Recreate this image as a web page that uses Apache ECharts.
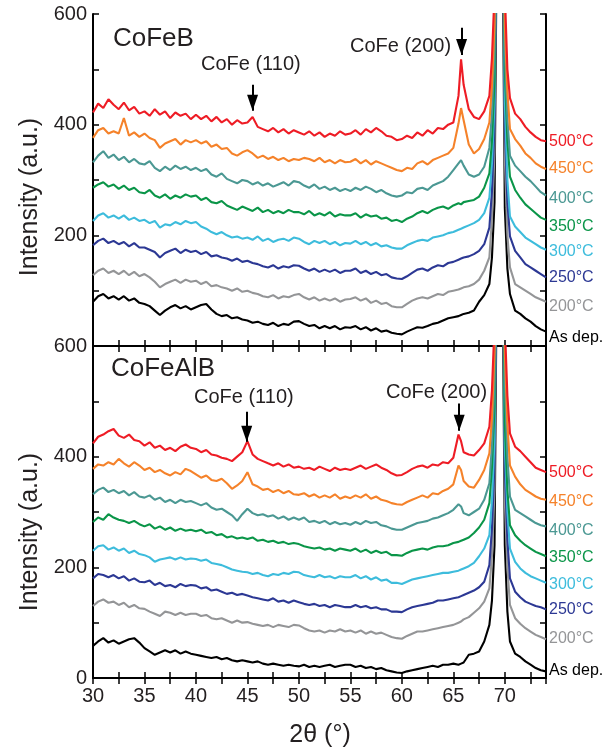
<!DOCTYPE html>
<html><head><meta charset="utf-8">
<script src="https://cdn.jsdelivr.net/npm/echarts@6/dist/echarts.min.js"></script>
<style>html,body{margin:0;padding:0;background:#fff}#c{width:615px;height:751px}</style>
</head><body><div id="c"></div>
<script>
// 2theta positions (deg) shared by all traces
const angles = [
30,30.5,31,31.5,32,32.5,33,33.5,34,34.5,
35,35.5,36,36.5,37,37.5,38,38.5,39,39.5,
40,40.5,41,41.5,42,42.5,43,43.5,44,44.5,
45,45.5,46,46.5,47,47.5,48,48.5,49,49.5,
50,50.5,51,51.5,52,52.5,53,53.5,54,54.5,
55,55.5,56,56.5,57,57.5,58,58.5,59,59.5,
60,60.5,61,61.5,62,62.5,63,63.5,64,64.5,
65,65.5,65.75,66,66.5,67,67.5,68,68.5,
68.75,69,69.2,69.35,69.5,69.65,69.8,70,70.25,
70.5,71,71.5,72,72.5,73,73.5,74];

const tempLabels = ['500°C','450°C','400°C','350°C','300°C','250°C','200°C','As dep.'];

// ---- CoFeB panel ----
const cofeb500 = [
422,438,430,446,436,428,440,426,432,420,
424,416,428,418,424,412,422,416,420,410,
418,410,416,406,414,404,410,400,408,402,
404,414,396,392,388,394,386,392,384,390,
386,382,388,380,386,378,384,380,388,382,
384,390,382,392,386,394,388,380,378,372,
374,380,376,386,380,390,384,394,392,400,
404,452,518,472,428,414,410,424,452,
520,640,1000,2500,5000,2500,1100,640,500,
448,420,410,396,386,378,372,370];
const cofeb450 = [
376,390,394,384,388,384,412,380,386,378,
384,376,372,358,366,370,374,364,372,368,
372,366,370,360,364,356,358,348,344,350,
354,348,340,344,338,342,336,340,334,338,
336,340,338,334,340,332,336,330,336,332,
333,338,330,336,328,334,330,326,322,318,
316,322,320,330,334,328,336,340,344,348,
358,402,430,408,364,348,356,374,404,
470,580,1000,2500,5000,2500,1000,580,460,
392,374,362,348,340,330,324,320];
const cofeb400 = [
332,344,352,340,346,336,342,332,338,330,
328,334,322,316,324,318,326,320,324,318,
322,316,320,310,306,312,302,298,294,300,
298,292,296,290,294,288,292,296,290,298,
296,290,286,292,284,288,282,286,280,284,
280,286,282,288,284,278,282,276,272,270,
272,278,276,284,286,282,290,294,298,306,
318,330,336,326,310,306,310,324,358,
420,540,950,2500,5000,2500,950,540,410,
344,326,316,306,298,288,278,272];
const cofeb350 = [
286,292,296,288,292,284,290,282,286,278,
276,282,272,268,274,266,272,268,274,270,
272,264,268,260,258,262,254,250,246,252,
248,244,250,242,246,240,244,240,246,242,
242,238,244,236,240,236,242,234,238,236,
236,240,232,238,234,236,230,232,226,228,
224,230,234,240,244,240,246,250,252,248,
254,258,256,260,262,264,270,286,312,
370,480,900,2500,5000,2500,900,500,370,
306,282,268,256,248,240,232,228];
const cofeb300 = [
226,236,240,232,236,230,236,228,232,226,
228,222,226,214,220,218,224,220,226,222,
224,216,212,206,202,206,200,196,198,194,
196,192,198,190,194,188,192,194,190,196,
194,188,184,190,186,190,184,188,182,186,
185,190,184,188,182,186,180,182,178,176,
176,182,186,190,192,190,196,198,200,204,
206,210,212,214,218,222,228,240,268,
330,440,850,2500,5000,2500,850,440,300,
234,216,206,196,190,184,178,174];
const cofeb250 = [
182,190,194,186,190,184,188,180,186,178,
178,174,170,160,168,172,176,168,174,170,
172,166,170,162,164,160,158,154,158,152,
154,150,148,144,142,146,140,144,142,146,
145,140,136,140,134,138,134,138,132,136,
136,140,132,136,130,134,128,130,124,122,
121,126,132,138,140,136,142,146,144,150,
152,156,158,160,162,166,172,184,214,
280,400,800,2500,5000,2500,800,400,260,
198,172,160,148,142,136,130,124];
const cofeb200 = [
128,136,140,132,136,130,136,128,134,126,
130,124,116,106,112,116,120,114,120,116,
118,112,116,108,110,106,104,100,104,98,
100,96,94,90,88,92,86,90,88,92,
94,88,84,88,82,86,82,86,80,84,
85,88,82,86,78,82,76,78,72,70,
70,76,82,86,88,86,90,94,92,98,
100,102,104,106,108,112,120,136,160,
230,350,800,2500,5000,2500,800,340,200,
142,112,106,100,94,88,84,80];
const cofebAsDep = [
80,90,94,86,90,84,90,82,86,78,
76,72,64,56,64,70,74,68,72,66,
70,74,76,66,58,54,56,50,52,48,
46,42,44,40,38,42,36,40,38,44,
45,40,36,38,32,36,32,36,30,34,
33,36,30,34,28,32,26,28,24,22,
21,26,30,34,33,36,40,42,46,50,
52,54,56,58,60,64,80,92,112,
160,260,700,2500,5000,2500,700,250,140,
94,64,58,50,44,36,30,26];

// ---- CoFeAlB panel ----
const cofealb500 = [
424,436,440,446,450,438,434,440,430,428,
420,426,416,420,412,416,410,418,422,416,
414,408,412,404,402,398,396,392,400,408,
428,404,396,392,388,384,388,382,386,380,
382,378,380,376,382,378,374,380,376,378,
376,380,384,378,382,386,380,376,370,366,
367,372,378,382,384,380,386,384,390,388,
398,440,428,408,404,402,412,424,454,
520,640,1000,2500,5000,2500,1000,640,510,
442,418,410,400,390,380,376,372];
const cofealb450 = [
378,386,384,390,386,396,388,382,390,384,
376,380,372,376,370,366,372,368,378,374,
368,362,366,358,356,360,352,342,348,356,
372,350,346,340,342,336,340,334,338,332,
331,334,328,332,326,330,326,332,324,328,
325,330,326,332,324,328,322,320,316,314,
313,318,322,326,330,326,334,332,338,342,
350,384,376,356,346,344,358,376,406,
470,590,1000,2500,5000,2500,1000,590,460,
384,364,350,340,334,328,324,322];
const cofealb400 = [
332,340,344,336,340,334,338,330,336,328,
326,330,322,326,318,322,316,322,318,320,
316,312,316,308,304,306,300,294,284,296,
306,298,294,296,292,294,288,292,286,290,
286,290,282,284,280,284,278,282,278,280,
277,282,278,284,280,282,276,274,270,268,
268,272,276,280,282,284,288,290,294,298,
304,314,310,298,294,300,306,322,352,
420,540,950,2500,5000,2500,950,540,400,
328,304,298,292,286,280,276,274];
const cofealb350 = [
282,290,286,296,290,286,284,280,284,278,
274,278,270,274,268,272,266,270,266,268,
265,268,262,264,258,260,254,256,252,254,
251,254,248,250,246,248,244,246,242,244,
242,238,236,234,236,232,234,230,234,232,
230,234,228,232,226,230,226,228,222,222,
221,226,230,232,234,232,236,238,238,240,
244,246,248,250,254,262,272,286,316,
380,490,900,2500,5000,2500,900,460,340,
276,258,248,240,234,228,224,220];
const cofealb300 = [
230,238,240,232,236,230,234,226,230,224,
222,218,210,214,216,218,214,218,214,216,
215,212,214,208,206,204,200,196,194,192,
191,188,190,186,184,188,186,190,188,192,
191,186,184,182,186,182,184,180,184,182,
182,186,180,184,178,182,176,178,172,172,
170,174,178,180,182,184,186,188,190,190,
192,194,196,198,202,208,220,234,258,
320,430,850,2500,5000,2500,850,420,300,
234,210,198,190,184,180,176,172];
const cofealb250 = [
180,188,186,182,186,180,184,176,180,174,
173,176,168,172,166,168,164,170,166,168,
167,162,164,158,160,156,152,154,150,152,
149,146,144,142,140,144,138,140,136,140,
137,134,132,134,130,132,128,132,130,128,
128,132,128,130,126,128,124,124,120,120,
119,124,128,130,132,134,136,140,140,142,
144,146,148,150,154,158,164,174,204,
270,390,800,2500,5000,2500,800,380,250,
180,156,146,138,134,130,128,124];
const cofealb200 = [
130,138,142,136,138,132,136,128,132,126,
125,120,116,112,120,118,114,118,114,116,
116,112,114,108,106,108,104,100,104,100,
101,98,96,94,96,92,96,94,92,96,
95,90,86,84,86,82,86,84,88,84,
86,82,86,80,84,80,82,78,74,72,
71,76,80,84,84,86,88,90,92,94,
96,100,102,106,110,118,126,138,162,
220,340,800,2500,5000,2500,800,320,200,
132,108,98,90,84,78,74,70];
const cofealbAsDep = [
58,66,72,64,68,62,66,70,72,64,
54,48,42,46,50,46,50,44,48,44,
42,40,38,36,38,34,36,32,30,32,
30,28,30,26,24,26,24,22,24,22,
21,24,20,22,20,22,24,20,22,24,
24,20,22,18,20,16,18,14,12,10,
9,12,14,16,18,20,22,20,24,24,
26,24,26,28,42,44,48,66,96,
140,240,700,2500,5000,2500,700,240,120,
66,44,38,30,24,18,14,12];

// annotation arrows: [angle, tail intensity, tip intensity]
const arrowsCoFeB = [[45.5, 472, 425], [65.8, 575, 526]];
const arrowsCoFeAlB = [[44.93, 481, 427], [65.57, 496, 447]];

const cofebSeries = [cofeb500, cofeb450, cofeb400, cofeb350, cofeb300, cofeb250, cofeb200, cofebAsDep];
const cofealbSeries = [cofealb500, cofealb450, cofealb400, cofealb350, cofealb300, cofealb250, cofealb200, cofealbAsDep];

const colors = ['#ee1c25','#f5822a','#4b9893','#0a9548','#3dbcdc','#2c3894','#949597','#000000'];
const FONT = "'Liberation Sans', Arial, Helvetica, sans-serif";
const TXT = '#231f20';

const chart = echarts.init(document.getElementById('c'), null, {renderer: 'canvas'});

function pairs(arr) { return angles.map((a, i) => [a, arr[i]]); }

function arrowShaft(list) {
  return {
    silent: true, animation: false, symbol: ['none', 'none'],
    lineStyle: {color: '#000', width: 2, type: 'solid'},
    label: {show: false}, emphasis: {disabled: true},
    data: list.map(a => [{coord: [a[0], a[1]]}, {coord: [a[0], a[2]]}])
  };
}
function arrowHead(list) {
  return {
    silent: true, animation: false,
    symbol: 'triangle', symbolSize: [11, 16], symbolRotate: 180, symbolOffset: [0, -8],
    itemStyle: {color: '#000'}, label: {show: false}, emphasis: {disabled: true},
    data: list.map(a => ({coord: [a[0], a[2]]}))
  };
}

const series = [];
[cofebSeries, cofealbSeries].forEach((group, gi) => {
  for (let k = group.length - 1; k >= 0; k--) {
    const s = {
      type: 'line', name: (gi ? 'CoFeAlB ' : 'CoFeB ') + tempLabels[k],
      xAxisIndex: gi * 2, yAxisIndex: gi * 2,
      data: pairs(group[k]), showSymbol: false, symbol: 'none',
      lineStyle: {color: colors[k], width: 2.1}, itemStyle: {color: colors[k]},
      clip: true, animation: false, z: 2
    };
    if (k === 0) {
      const arr = gi ? arrowsCoFeAlB : arrowsCoFeB;
      s.markLine = arrowShaft(arr);
      s.markPoint = arrowHead(arr);
    }
    series.push(s);
  }
});

const axisLine = {show: true, lineStyle: {color: '#000', width: 2}};
const tick = {show: true, inside: true, length: 6, lineStyle: {color: '#000', width: 1.5}};
const lbl = {color: TXT, fontSize: 20, fontFamily: FONT};

function xAx(grid, pos, labels) {
  return {
    type: 'value', gridIndex: grid, position: pos, min: 30, max: 74, interval: 2.5,
    axisLine: axisLine, axisTick: tick, splitLine: {show: false},
    axisLabel: labels ? Object.assign({margin: 8, formatter: v => (v % 5 === 0 ? String(v) : '')}, lbl) : {show: false}
  };
}
function yAx(grid, pos, labels, showZero) {
  return {
    type: 'value', gridIndex: grid, position: pos, min: 0, max: 600, interval: 100,
    axisLine: axisLine, axisTick: tick, splitLine: {show: false},
    axisLabel: labels ? Object.assign({margin: 6, formatter: v => (v % 200 === 0 && (showZero || v > 0) ? String(v) : '')}, lbl) : {show: false}
  };
}

const graphic = [];
function txt(x, y, text, size, color, align, rot) {
  graphic.push({
    type: 'text', x: x, y: y, rotation: rot || 0, silent: true, z: 10,
    style: {text: text, font: size + 'px ' + FONT, fill: color, textAlign: align || 'left', textVerticalAlign: 'middle'}
  });
}
txt(113, 39, 'CoFeB', 26, TXT);
txt(201, 64, 'CoFe (110)', 20, TXT);
txt(350, 46, 'CoFe (200)', 20, TXT);
txt(111, 369, 'CoFeAlB', 26, TXT);
txt(194, 397, 'CoFe (110)', 20, TXT);
txt(386, 392, 'CoFe (200)', 20, TXT);
txt(320, 735, '2\u03b8 (\u00b0)', 25, TXT, 'center');
txt(30, 197, 'Intensity (a.u.)', 25, TXT, 'center', Math.PI / 2);
txt(30, 532, 'Intensity (a.u.)', 25, TXT, 'center', Math.PI / 2);

const labelYTop = [142, 169, 199, 227, 252, 278, 307, 338];
const labelYBot = [473, 502, 531, 558, 585, 610, 639, 671];
tempLabels.forEach((t, k) => {
  txt(549, labelYTop[k], t, 16, colors[k]);
  txt(549, labelYBot[k], t, 16, colors[k]);
});

chart.setOption({
  backgroundColor: '#fff',
  animation: false,
  grid: [
    {left: 93, top: 14, width: 453, height: 332, containLabel: false},
    {left: 93, top: 346, width: 453, height: 332, containLabel: false}
  ],
  xAxis: [xAx(0, 'bottom', false), xAx(0, 'top', false), xAx(1, 'bottom', true), xAx(1, 'top', false)],
  yAxis: [yAx(0, 'left', true, false), yAx(0, 'right', false), yAx(1, 'left', true, true), yAx(1, 'right', false)],
  series: series,
  graphic: graphic
});
</script></body></html>
